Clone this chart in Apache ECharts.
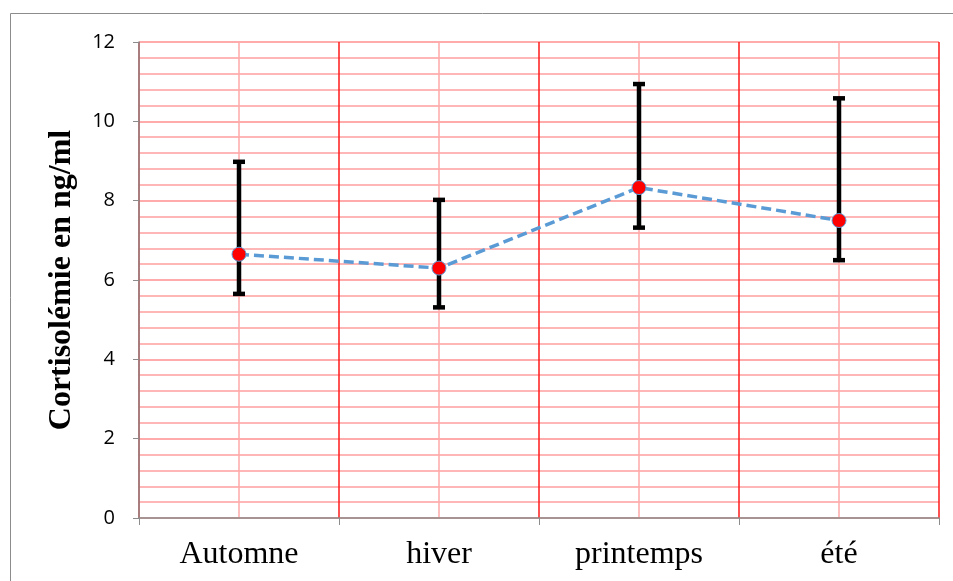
<!DOCTYPE html>
<html>
<head>
<meta charset="utf-8">
<script src="https://cdn.jsdelivr.net/npm/echarts@6/dist/echarts.min.js"></script>
<style>
  html, body { margin: 0; padding: 0; background: #fff; }
  #chart { width: 953px; height: 581px; }
</style>
</head>
<body>
<div id="chart"></div>
<script>
// saisons et valeurs moyennes
const seasons = ['Automne', 'hiver', 'printemps', 'été']
const means = [6.65, 6.3, 8.33, 7.5]
const lows = [5.65, 5.31, 7.32, 6.5]
const highs = [8.98, 8.02, 10.94, 10.58]

const chart = echarts.init(document.getElementById('chart'))

// barres d'erreur (trait + deux petits chapeaux)
const errorData = seasons.map((s, i) => [i, lows[i], highs[i]])

const renderError = (params, api) => {
  const x = api.value(0)
  const lo = api.coord([x, api.value(1)])
  const hi = api.coord([x, api.value(2)])
  const half = 6
  const style = { stroke: '#000', lineWidth: 4.5, fill: null }
  return {
    type: 'group',
    children: [
      { type: 'line', shape: { x1: hi[0], y1: hi[1], x2: lo[0], y2: lo[1] }, style },
      { type: 'line', shape: { x1: hi[0] - half, y1: hi[1], x2: hi[0] + half, y2: hi[1] }, style },
      { type: 'line', shape: { x1: lo[0] - half, y1: lo[1], x2: lo[0] + half, y2: lo[1] }, style }
    ]
  }
}

const option = {
  animation: false,
  graphic: [{
    type: 'rect',
    left: 8, top: 11,
    shape: { width: 980, height: 620 },
    style: { fill: 'none', stroke: '#8c8c8c', lineWidth: 1 },
    z: -10
  }],
  grid: { left: 139, right: 14, top: 42, bottom: 63 },
  xAxis: [
    {
      type: 'category',
      data: seasons,
      boundaryGap: true,
      axisLine: { lineStyle: { color: '#8c8c8c', width: 1.5 } },
      axisTick: { show: true, length: 7, lineStyle: { color: '#8c8c8c' } },
      axisLabel: { fontFamily: 'Liberation Serif', fontSize: 32, color: '#000', margin: 21 },
      splitLine: { show: false }
    },
    {
      // axe caché : lignes verticales aux limites (rouge) et aux centres (rose)
      type: 'value',
      min: 0, max: 8, interval: 1,
      position: 'bottom',
      axisLine: { show: false },
      axisTick: { show: false },
      axisLabel: { show: false },
      splitLine: { show: true, lineStyle: { color: ['#ff1a1a', '#ffa8a8'], width: 1.5 } }
    }
  ],
  yAxis: {
    type: 'value',
    min: 0, max: 12, interval: 2,
    name: 'Cortisolémie en ng/ml',
    nameLocation: 'middle',
    nameGap: 61,
    nameTextStyle: { fontFamily: 'Liberation Serif', fontWeight: 'bold', fontSize: 32, color: '#000' },
    axisLine: { show: true, lineStyle: { color: '#8c8c8c', width: 1.5 } },
    axisTick: { show: true, length: 6, lineStyle: { color: '#8c8c8c' } },
    axisLabel: { fontFamily: 'Open Sans', fontSize: 20, color: '#000', margin: 24 },
    splitLine: { show: true, lineStyle: { color: '#ff8f8f', width: 1.5 } },
    minorTick: { show: false, splitNumber: 5 },
    minorSplitLine: { show: true, lineStyle: { color: '#ff9e9e', width: 1.5 } }
  },
  series: [
    {
      type: 'custom',
      renderItem: renderError,
      data: errorData,
      z: 3
    },
    {
      type: 'line',
      data: means,
      symbol: 'circle',
      symbolSize: 14,
      itemStyle: { color: '#ff0000', borderColor: '#5b9bd5', borderWidth: 1 },
      lineStyle: { color: '#5b9bd5', width: 3.5, type: [10, 5] },
      z: 5
    }
  ]
}

chart.setOption(option)
</script>
</body>
</html>
